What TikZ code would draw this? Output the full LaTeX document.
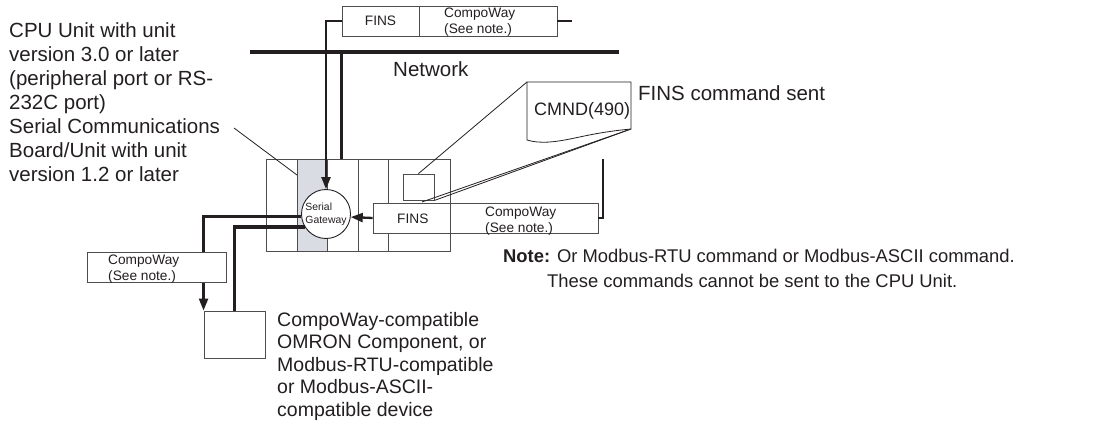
\documentclass[tikz,border=0pt]{standalone}
\usepackage{fontspec}
\setmainfont{Liberation Sans}
\usetikzlibrary{arrows.meta}
\definecolor{slotgray}{HTML}{D9DCE3}
\definecolor{inkcolor}{HTML}{231F20}
\newcommand{\mainsize}{\fontsize{20.5}{24}\selectfont}
\newcommand{\devsize}{\fontsize{19.5}{22.5}\selectfont}
\newcommand{\notesize}{\fontsize{18.4}{25}\selectfont}
\newcommand{\cellsize}{\fontsize{13.7}{16}\selectfont}
\newcommand{\gwsize}{\fontsize{10.4}{13}\selectfont}

\begin{document}
\begin{tikzpicture}[
    x=1pt, y=-1pt,
    cell/.style={rectangle, draw=inkcolor!80, line width=0.9pt, fill=white, inner sep=0pt, font=\cellsize, text=inkcolor},
    wire/.style={draw=inkcolor, line width=2.3pt},
    bus/.style={draw=inkcolor, line width=3.4pt},
    thinline/.style={draw=inkcolor, line width=0.8pt},
    tip/.style={-{Triangle[length=12pt, width=9pt]}},
    txt/.style={anchor=base west, inner sep=0pt, align=left, text=inkcolor}
]
\useasboundingbox (0,0) rectangle (1101,431);

% -- top frame: FINS / CompoWay on the network --
\node[cell, minimum width=77, minimum height=30] (fins1) at (380.5,21) {FINS};
\node[cell, minimum width=138, minimum height=30] (compo1) at (488,21) {};
% multi-line labels sit on the baseline of their last line
\node[txt, font=\cellsize] (compo1txt) at (444,33) {CompoWay\\(See note.)};
\coordinate (stub) at (572,21);
\draw[inkcolor, line width=1.4pt] (compo1.east) -- (stub);

\coordinate (netL) at (250,52);
\coordinate (netR) at (619,52);
\draw[inkcolor, line width=4pt] (netL) -- (netR);
\node[txt, font=\mainsize] (net) at (393,76) {Network};

% -- PLC rack --
\node[rectangle, draw=inkcolor!80, line width=0.9pt, fill=white, minimum width=184, minimum height=92, inner sep=0pt] (rack) at (358,205) {};
\draw[draw=inkcolor!80, line width=0.9pt, fill=slotgray] (297,159) rectangle (327,251);
\foreach \x in {358,388}
    \draw[inkcolor!80, line width=0.9pt] (\x,159) -- (\x,251);
\node[rectangle, draw=inkcolor!80, line width=0.9pt, minimum width=31, minimum height=26, inner sep=0pt] (sq) at (418.5,187) {};

\node[circle, draw=inkcolor, line width=0.9pt, fill=white, minimum size=49, inner sep=0pt, font=\gwsize, align=left, text=inkcolor] (gw) at (326,214) {Serial\\Gateway};

% -- FINS frame from CMND(490) --
\node[cell, minimum width=225, minimum height=30] (fins2) at (485.5,218) {};
\draw[inkcolor!80, line width=0.9pt] (fins2.north -| rack.east) -- (fins2.south -| rack.east);
\node[txt, font=\cellsize] (fins2txt) at (397,223) {FINS};
\node[txt, font=\cellsize] (compo2txt) at (485,232) {CompoWay\\(See note.)};

% -- device --
\node[cell, minimum width=61, minimum height=47] (dev) at (234.5,334.5) {};

% -- wires --
\draw[bus] (fins1.west |- netL) -- (fins1.west |- rack.north);
\draw[wire, tip] (fins1.west) -| (gw.north);
\draw[wire, tip] (fins2.west) -- (gw.353);
\coordinate (rtop) at (603,159);
\draw[inkcolor, line width=2pt] (rtop) |- (fins2.east);
\draw[wire, tip] (gw.186) -| (dev.north west);
\draw[bus] (gw.211) -| (dev.north);

\node[cell, minimum width=139, minimum height=30] (compo3) at (156.5,267) {};
\node[txt, font=\cellsize] (compo3txt) at (108,280) {CompoWay\\(See note.)};

% -- CMND(490) sheet --
\coordinate (docTL) at (527,82);
\coordinate (docTR) at (631,82);
\coordinate (docBR) at (631,129);
\coordinate (docBL) at (527,140);
\coordinate (cone) at (422,202);
\draw[thinline] (docTL) -- (sq.north);
\draw[thinline] (docBR) -- (cone);
\draw[thinline] (docBR) -- (sq.south east);
\draw[thinline, fill=white] (docTL) -- (docTR) -- (docBR)
    .. controls (600,132) and (585,136) .. (570,139)
    .. controls (555,142) and (540,144) .. (docBL) -- cycle;
\node[txt, font=\fontsize{18}{20}\selectfont] (cmnd) at (534,115) {CMND(490)};
\node[txt, font=\mainsize] (sent) at (638,100) {FINS command sent};

% -- labels --
\node[txt, font=\mainsize] (cpu) at (9,181) {CPU Unit with unit\\version 3.0 or later\\(peripheral port or RS-\\232C port)\\Serial Communications\\Board/Unit with unit\\version 1.2 or later};
\coordinate (ptr) at (234,128);
\coordinate (slotpt) at (297,175);
\draw[thinline] (ptr) -- (slotpt);

\node[txt, font=\devsize] (devtxt) at (277,416) {CompoWay-compatible\\OMRON Component, or\\Modbus-RTU-compatible\\or Modbus-ASCII-\\compatible device};

\node[txt, font=\notesize] (note1) at (503,262) {\textbf{Note:} Or Modbus-RTU command or Modbus-ASCII command.};
\node[txt, font=\notesize] (note2) at (547,287) {These commands cannot be sent to the CPU Unit.};

\end{tikzpicture}
\end{document}
